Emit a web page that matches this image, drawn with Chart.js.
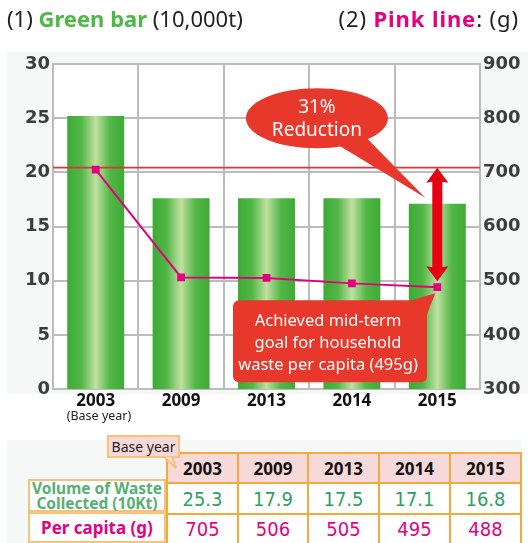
<!DOCTYPE html>
<html><head><meta charset="utf-8">
<script src="https://cdn.jsdelivr.net/npm/chart.js@4"></script>
<style>
body{margin:0;width:528px;height:543px;overflow:hidden;background:#fff;font-family:"Noto Sans",sans-serif;position:relative}
#panel{position:absolute;left:7px;top:52px;width:521px;height:342px;background:#f6f8f8}
#plotbg{position:absolute;background:#fff}
#gridlayer{position:absolute;left:0;top:0;width:528px;height:430px}
.gl{position:absolute;background:#bcbcbc}
#tpanel{position:absolute;left:7px;top:440px;width:514px;height:103px;background:#f6f8f8}
#cv{position:absolute;left:0;top:0}
.t{position:absolute;white-space:nowrap;line-height:1}
#t1{left:7px;top:7px;font-size:22px;color:#222}
#t2{right:9px;top:7px;font-size:22px;color:#222;letter-spacing:0.9px}
.g{color:#4db848;font-weight:bold}
.p{color:#e4007f;font-weight:bold}
#by{left:99px;top:410px;font-size:12.5px;color:#222;transform:translateX(-50%)}
.cell{position:absolute;box-sizing:border-box;display:flex;align-items:center;justify-content:center;text-align:center}
.hd{background:#f8d9d9;border:2px solid #f4a93a;font-weight:bold;font-size:17px;color:#111}
.vc{background:#fff;border:2px solid #f4a93a;font-family:"DejaVu Sans Condensed","DejaVu Sans",sans-serif;font-size:20px}
.lab{background:#fff;border:2px solid #f7c27a;font-weight:bold}
#bybox{position:absolute;left:107px;top:435px;width:73px;height:23px;box-sizing:border-box;background:#f8d9d9;border:2px solid #f7c27a;font-size:14px;color:#222;display:flex;align-items:center;justify-content:center}
</style>
</head><body>
<div id="panel"></div>
<div id="plotbg"></div>
<div id="gridlayer"></div>
<div id="tpanel"></div>
<canvas id="cv" width="528" height="430"></canvas>
<div class="t" id="t1">(1) <span class="g">Green bar</span> (10,000t)</div>
<div class="t" id="t2">(2) <span class="p">Pink line</span>: (g)</div>
<div class="t" id="by">(Base year)</div>
<div id="table"></div>
<svg style="position:absolute;left:160px;top:456px" width="24" height="16"><polygon points="3,0 16,12 12,0" fill="#f8d9d9" stroke="#f7c27a" stroke-width="2"/></svg>
<script>
// ---- data ----
const years = ['2003', '2009', '2013', '2014', '2015'];
const wasteVolume = [25.2, 17.6, 17.6, 17.6, 17.1];      // green bars (10,000t), as drawn
const perCapita = [705, 506, 505, 495, 488];             // pink line (g)
const baseLevel = 705;                                    // base-year level line (g)
const leftTicks = [0, 5, 10, 15, 20, 25, 30];
const rightTicks = [300, 400, 500, 600, 700, 800, 900];
const tableWaste = ['25.3', '17.9', '17.5', '17.1', '16.8'];
const tablePerCapita = ['705', '506', '505', '495', '488'];
const rowLabels = ['Volume of Waste<br>Collected (10Kt)', 'Per capita (g)'];
const bubbleText = ['31%', 'Reduction'];
const noteText = ['Achieved mid-term', 'goal for household', 'waste per capita (495g)'];

const RED = '#e8382c';
const PINK = '#e4007f';

function barGradient(ctx) {
  const chart = ctx.chart;
  const xs = chart.scales && chart.scales.x;
  if (!xs || ctx.dataIndex === undefined) return '#4cb040';
  const cx = xs.getPixelForValue(ctx.dataIndex);
  const hw = (xs.width / years.length) * 0.667 / 2;
  if (!isFinite(cx) || !isFinite(hw) || hw <= 0) return '#4cb040';
  const g = chart.ctx.createLinearGradient(cx - hw, 0, cx + hw, 0);
  g.addColorStop(0, '#3dab35');
  g.addColorStop(0.25, '#52b747');
  g.addColorStop(0.5, '#c0e0a0');
  g.addColorStop(0.75, '#52b747');
  g.addColorStop(1, '#3dab35');
  return g;
}

const decor = {
  id: 'decor',
  afterLayout(chart) {
    const a = chart.chartArea, bg = document.getElementById('plotbg');
    bg.style.left = a.left + 'px'; bg.style.top = a.top + 'px';
    bg.style.width = (a.right - a.left) + 'px'; bg.style.height = (a.bottom - a.top) + 'px';
    // grid lines placed from the scales (behind the canvas)
    const layer = document.getElementById('gridlayer');
    layer.innerHTML = '';
    const xs = chart.scales.x, ys = chart.scales.y;
    const add = (l, t, w, h) => {
      const d = document.createElement('div');
      d.className = 'gl';
      d.style.left = l + 'px'; d.style.top = t + 'px';
      d.style.width = w + 'px'; d.style.height = h + 'px';
      layer.appendChild(d);
    };
    leftTicks.forEach(v => {
      const y = Math.round(ys.getPixelForValue(v));
      add(Math.round(a.left) - 1, y - 1, Math.round(a.right - a.left) + 2, 2);
    });
    const step = xs.width / years.length;
    for (let i = 0; i <= years.length; i++) {
      const x = Math.round(xs.getPixelForValue(0) - step / 2 + i * step);
      add(x - 1, Math.round(a.top), 2, Math.round(a.bottom - a.top) + 1);
    }
  },
  afterDatasetDraw(chart, args) {
    if (args.meta.type !== 'bar') return;
    const {ctx, chartArea: a} = chart;
    const y = chart.scales.y1.getPixelForValue(baseLevel) - 2;
    ctx.save();
    ctx.strokeStyle = '#e8303a';
    ctx.lineWidth = 1.6;
    ctx.beginPath(); ctx.moveTo(a.left, y); ctx.lineTo(a.right, y); ctx.stroke();
    ctx.restore();
  },
  afterDatasetsDraw(chart) {
    const {ctx, chartArea: a} = chart;
    const xs = chart.scales.x, y1 = chart.scales.y1;
    const last = years.length - 1;
    const ax = xs.getPixelForValue(last);
    const yTop = y1.getPixelForValue(baseLevel) - 2;
    const yBot = y1.getPixelForValue(perCapita[last]) - 6;
    ctx.save();
    // double arrow
    ctx.fillStyle = '#e60012';
    const sw = 5, hw = 11, hh = 15;
    ctx.beginPath();
    ctx.moveTo(ax, yTop);
    ctx.lineTo(ax + hw, yTop + hh);
    ctx.lineTo(ax + sw, yTop + hh - 1);
    ctx.lineTo(ax + sw, yBot - hh + 1);
    ctx.lineTo(ax + hw, yBot - hh);
    ctx.lineTo(ax, yBot);
    ctx.lineTo(ax - hw, yBot - hh);
    ctx.lineTo(ax - sw, yBot - hh + 1);
    ctx.lineTo(ax - sw, yTop + hh - 1);
    ctx.lineTo(ax - hw, yTop + hh);
    ctx.closePath();
    ctx.fill();

    // speech bubble ellipse
    const ex = xs.getPixelForValue(3) - 35, ey = y1.getPixelForValue(800);
    ctx.fillStyle = RED;
    ctx.beginPath();
    ctx.ellipse(ex, ey, 71, 30, 0, 0, Math.PI * 2);
    ctx.fill();
    ctx.beginPath();
    ctx.moveTo(ex + 20, ey + 26);
    ctx.lineTo(ax - 12, yTop + 30);
    ctx.lineTo(ex + 48, ey + 18);
    ctx.closePath();
    ctx.fill();
    ctx.fillStyle = '#ffffff';
    ctx.font = '19px "Noto Sans"';
    ctx.textAlign = 'center';
    ctx.textBaseline = 'middle';
    ctx.fillText(bubbleText[0], ex, ey - 11);
    ctx.fillText(bubbleText[1], ex, ey + 12);

    // note box
    const bx = a.left + 180, by = y1.getPixelForValue(464), bw = 194, bh = 82;
    ctx.fillStyle = RED;
    ctx.beginPath();
    ctx.roundRect(bx, by, bw, bh, 6);
    ctx.fill();
    ctx.beginPath();
    ctx.moveTo(bx + bw - 22, by + 2);
    ctx.lineTo(ax - 2, yBot + 12);
    ctx.lineTo(bx + bw, by + 14);
    ctx.closePath();
    ctx.fill();
    ctx.fillStyle = '#ffffff';
    ctx.font = '16.5px "Noto Sans"';
    noteText.forEach((t, i) => ctx.fillText(t, bx + bw / 2 - 2, by + 21 + i * 22));
    ctx.restore();
  }
};

new Chart(document.getElementById('cv'), {
  data: {
    labels: years,
    datasets: [
      {
        type: 'line', data: perCapita, yAxisID: 'y1', order: 0,
        borderColor: PINK, borderWidth: 2, backgroundColor: PINK,
        pointStyle: 'rect', pointRadius: 5.5, pointBackgroundColor: PINK, pointBorderWidth: 0,
        tension: 0
      },
      {
        type: 'bar', data: wasteVolume, yAxisID: 'y', order: 1,
        backgroundColor: barGradient, borderWidth: 0,
        barPercentage: 0.667, categoryPercentage: 1
      }
    ]
  },
  options: {
    responsive: false, animation: false,
    layout: {padding: {top: 64, left: 0, right: 0, bottom: 0}},
    plugins: {legend: {display: false}, tooltip: {enabled: false}},
    scales: {
      x: {
        offset: true,
        grid: {display: false, drawTicks: false},
        border: {display: false},
        ticks: {color: '#111', font: {family: 'Noto Sans', size: 17, weight: 'bold'}, padding: 2},
        afterFit(s) { s.height = 41; }
      },
      y: {
        position: 'left', min: 0, max: 30,
        afterBuildTicks(s) { s.ticks = leftTicks.map(v => ({value: v})); },
        grid: {display: false, drawTicks: false},
        border: {display: false},
        ticks: {color: '#3d3d3d', font: {family: 'DejaVu Sans', size: 18, weight: 'bold'}, padding: 3},
        afterFit(s) { s.width = 53; }
      },
      y1: {
        position: 'right', min: 300, max: 900,
        afterBuildTicks(s) { s.ticks = rightTicks.map(v => ({value: v})); },
        grid: {display: false, drawTicks: false},
        border: {display: false},
        ticks: {color: '#3d3d3d', font: {family: 'DejaVu Sans', size: 18, weight: 'bold'}, padding: 3},
        afterFit(s) { s.width = 48; }
      }
    }
  },
  plugins: [decor]
});

// ---- table ----
const tb = document.getElementById('table');
const colX = [166, 237, 307, 378, 449, 520];
function cell(cls, x, y, w, h, html, style) {
  const d = document.createElement('div');
  d.className = 'cell ' + cls;
  d.style.left = x + 'px'; d.style.top = y + 'px';
  d.style.width = w + 'px'; d.style.height = h + 'px';
  d.innerHTML = html;
  if (style) Object.assign(d.style, style);
  tb.appendChild(d);
}
years.forEach((yr, i) => {
  const w = colX[i + 1] - colX[i] + 2;
  cell('hd', colX[i], 452, w, 32, yr);
  cell('vc', colX[i], 482, w, 33, tableWaste[i], {color: '#2f9f5e'});
  cell('vc', colX[i], 513, w, 32, tablePerCapita[i], {color: PINK});
});
cell('lab', 28, 479, 138, 33, rowLabels[0], {color: '#55b071', fontSize: '15.5px', lineHeight: '15px'});
cell('lab', 28, 512, 138, 31, rowLabels[1], {color: PINK, fontSize: '17px'});
cell('lab', 28, 542, 138, 10, '');
const bb = document.createElement('div');
bb.id = 'bybox'; bb.textContent = 'Base year';
tb.appendChild(bb);
</script>
</body></html>
